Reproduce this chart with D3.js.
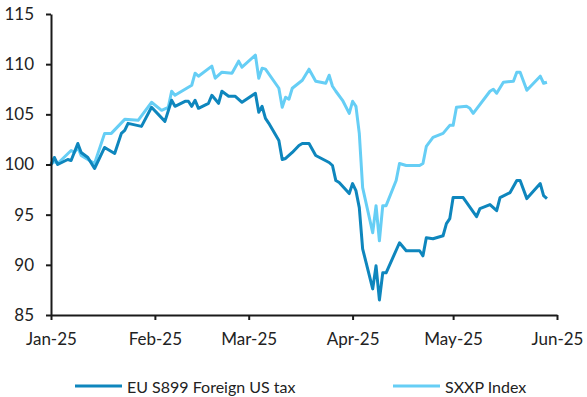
<!DOCTYPE html>
<html><head><meta charset="utf-8">
<script src="https://cdn.jsdelivr.net/npm/d3@7"></script>
<style>
html,body{margin:0;padding:0;background:#fff;}
svg{display:block;font-family:Lato,"Noto Sans",sans-serif;}
</style></head><body>
<svg id="c" width="587" height="397"></svg>
<script>
const seriesNames = ["EU S899 Foreign US tax", "SXXP Index"];
const euDates = ["2025-01-01","2025-01-02","2025-01-03","2025-01-06","2025-01-07","2025-01-09","2025-01-10","2025-01-12","2025-01-14","2025-01-17","2025-01-20","2025-01-22","2025-01-23","2025-01-24","2025-01-28","2025-01-31","2025-02-04","2025-02-06","2025-02-07","2025-02-10","2025-02-11","2025-02-12","2025-02-13","2025-02-14","2025-02-17","2025-02-18","2025-02-20","2025-02-21","2025-02-23","2025-02-25","2025-02-27","2025-03-03","2025-03-04","2025-03-05","2025-03-06","2025-03-07","2025-03-10","2025-03-11","2025-03-12","2025-03-14","2025-03-16","2025-03-17","2025-03-19","2025-03-21","2025-03-25","2025-03-26","2025-03-27","2025-03-28","2025-03-31","2025-04-01","2025-04-02","2025-04-03","2025-04-04","2025-04-07","2025-04-08","2025-04-09","2025-04-10","2025-04-11","2025-04-15","2025-04-17","2025-04-21","2025-04-22","2025-04-23","2025-04-25","2025-04-28","2025-04-29","2025-04-30","2025-05-01","2025-05-04","2025-05-08","2025-05-09","2025-05-12","2025-05-14","2025-05-15","2025-05-18","2025-05-20","2025-05-21","2025-05-23","2025-05-27","2025-05-28","2025-05-29"];
const euValues = [100.0,100.7,100.0,100.5,100.4,102.1,101.2,100.7,99.6,101.7,101.1,103.1,103.4,104.1,103.8,105.7,104.3,106.4,105.8,106.3,106.3,105.8,106.4,105.6,106.1,106.9,106.1,107.3,106.8,106.8,106.2,107.1,105.2,105.8,104.6,104.1,102.4,100.5,100.6,101.2,101.9,102.1,102.1,100.9,100.2,99.9,98.4,98.2,97.1,98.1,97.4,95.7,91.6,87.6,89.9,86.5,89.2,89.2,92.2,91.4,91.4,90.9,92.7,92.6,92.9,94.1,94.6,96.7,96.7,94.8,95.6,96.0,95.4,96.7,97.2,98.4,98.4,96.6,98.1,96.9,96.6];
const sxxpDates = ["2025-01-01","2025-01-02","2025-01-03","2025-01-07","2025-01-08","2025-01-09","2025-01-10","2025-01-14","2025-01-17","2025-01-19","2025-01-23","2025-01-27","2025-01-31","2025-02-03","2025-02-05","2025-02-06","2025-02-07","2025-02-12","2025-02-13","2025-02-14","2025-02-18","2025-02-19","2025-02-21","2025-02-24","2025-02-26","2025-02-27","2025-03-03","2025-03-04","2025-03-05","2025-03-06","2025-03-10","2025-03-11","2025-03-12","2025-03-13","2025-03-14","2025-03-17","2025-03-19","2025-03-21","2025-03-24","2025-03-25","2025-03-26","2025-03-27","2025-03-29","2025-03-31","2025-04-01","2025-04-02","2025-04-03","2025-04-04","2025-04-07","2025-04-08","2025-04-09","2025-04-10","2025-04-11","2025-04-14","2025-04-15","2025-04-17","2025-04-21","2025-04-22","2025-04-23","2025-04-25","2025-04-28","2025-04-30","2025-05-01","2025-05-02","2025-05-05","2025-05-06","2025-05-07","2025-05-12","2025-05-13","2025-05-14","2025-05-16","2025-05-19","2025-05-20","2025-05-21","2025-05-23","2025-05-27","2025-05-28","2025-05-29"];
const sxxpValues = [100.0,100.3,100.1,101.4,101.2,101.7,100.9,100.1,103.1,103.1,104.5,104.4,106.2,105.4,105.7,107.3,106.9,107.9,109.1,108.8,109.8,108.6,109.2,109.1,110.3,109.7,110.9,108.6,109.6,109.5,107.6,105.7,106.7,106.5,107.6,108.4,109.5,108.3,108.1,108.9,107.8,107.3,106.4,105.1,106.3,105.8,103.1,97.7,93.2,95.9,92.4,95.9,95.9,98.4,100.1,99.9,99.9,100.1,101.8,102.7,103.1,103.9,103.9,105.7,105.8,105.6,105.1,107.3,107.5,107.1,108.2,108.3,109.2,109.2,107.4,108.8,108.1,108.2];
const yTicks = [85,90,95,100,105,110,115];
const xTickDates = ["2025-01-01","2025-02-01","2025-03-01","2025-04-01","2025-05-01","2025-06-01"];
const colors = ["#0e86bd", "#66cef5"];

const parse = d3.utcParse("%Y-%m-%d");
const svg = d3.select("#c");
const m = {l:51, r:30, t:14, b:82};
const W = 587, H = 397;
const x = d3.scaleUtc().domain([parse("2025-01-01"), parse("2025-06-01")]).range([m.l, W-m.r]);
const y = d3.scaleLinear().domain([85,115]).range([H-m.b, m.t]);

const series = [
  {name: seriesNames[0], pts: euDates.map((d,i)=>({d:parse(d), v:euValues[i]})), color: colors[0]},
  {name: seriesNames[1], pts: sxxpDates.map((d,i)=>({d:parse(d), v:sxxpValues[i]})), color: colors[1]}
];
const line = d3.line().x(p=>x(p.d)).y(p=>y(p.v));
[series[1], series[0]].forEach(s=>{
  svg.append("path").attr("d", line(s.pts)).attr("fill","none")
    .attr("stroke", s.color).attr("stroke-width", 3).attr("stroke-linejoin","round");
});

const yAxis = svg.append("g").attr("transform",`translate(${m.l},0)`)
  .call(d3.axisLeft(y).tickValues(yTicks).tickSize(5).tickSizeOuter(0));
const xAxis = svg.append("g").attr("transform",`translate(0,${H-m.b})`)
  .call(d3.axisBottom(x).tickValues(xTickDates.map(parse)).tickFormat(d3.utcFormat("%b-%y")).tickSize(5).tickSizeOuter(0));
[yAxis, xAxis].forEach(g=>{
  g.select(".domain").attr("stroke","#1a1a1a").attr("stroke-width",2);
  g.selectAll(".tick line").attr("stroke","#1a1a1a").attr("stroke-width",2);
  g.selectAll(".tick text").attr("fill","#222").attr("font-size",17).attr("font-family","Lato,'Noto Sans',sans-serif");
});
yAxis.selectAll(".tick text").attr("x",-17);
xAxis.selectAll(".tick text").attr("y",18);

const leg = [{x0:75, x1:122}, {x0:393, x1:440}];
series.forEach((s,i)=>{
  const g = svg.append("g");
  g.append("line").attr("x1",leg[i].x0).attr("x2",leg[i].x1).attr("y1",386).attr("y2",386)
    .attr("stroke",s.color).attr("stroke-width",3);
  g.append("text").attr("x",leg[i].x1+5).attr("y",393).attr("font-size",16).attr("fill","#222").text(s.name);
});
</script></body></html>
